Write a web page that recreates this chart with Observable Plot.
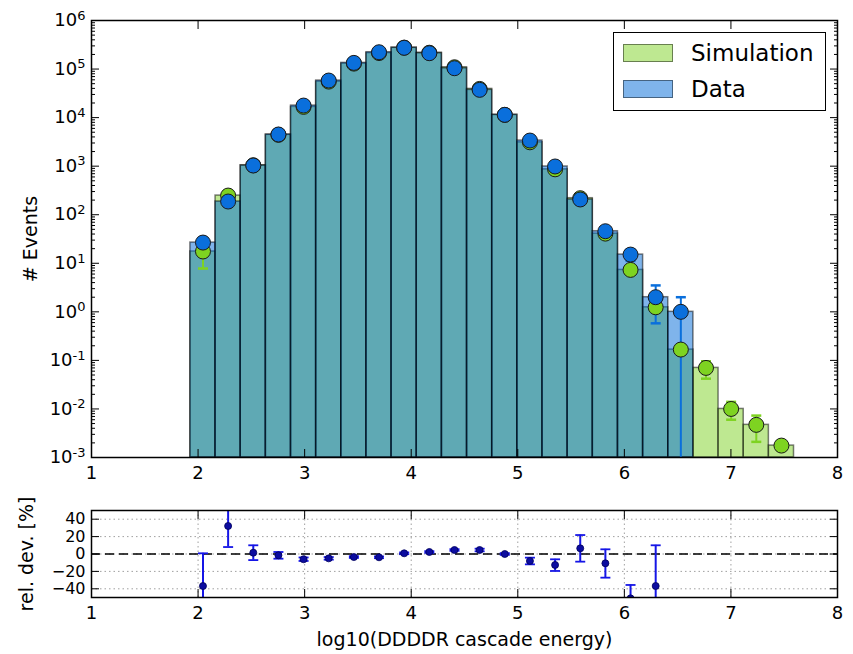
<!DOCTYPE html>
<html><head><meta charset="utf-8">
<script src="https://cdn.jsdelivr.net/npm/d3@7"></script>
<script src="https://cdn.jsdelivr.net/npm/@observablehq/plot@0.6"></script>
<style>
body{margin:0;background:#fff;font-family:"DejaVu Sans",sans-serif;}
#fig{position:relative;width:853px;height:654px;overflow:hidden;background:#fff;}
#top,#bot{position:absolute;left:0;}
#top{top:0}
#bot{top:490px}
.legend{position:absolute;left:613px;top:32px;width:211px;height:77px;border:1.5px solid #000;background:#fff;font-size:23px;}
.legend .row{position:absolute;left:9px;height:20px;display:flex;align-items:center;}
.legend .sw{width:48px;height:16px;border:1.5px solid rgba(0,0,0,0.45);margin-right:18px;}
</style></head><body>
<div id="fig"><div id="top"></div><div id="bot"></div>
<div class="legend">
  <div class="row" style="top:10px"><div class="sw" style="background:rgba(125,209,35,0.5)"></div><span>Simulation</span></div>
  <div class="row" style="top:46px"><div class="sw" style="background:rgba(0,105,215,0.5)"></div><span>Data</span></div>
</div>
</div>
<script>
// ---- data ----
const binEdges = [1.928, 2.164, 2.400, 2.636, 2.872, 3.108, 3.344, 3.580, 3.816, 4.052, 4.288, 4.524, 4.760,
                  4.996, 5.232, 5.468, 5.704, 5.940, 6.176, 6.412, 6.648, 6.884, 7.120, 7.356, 7.592];
const simCounts = [17.5, 248, 1045, 4420, 16640, 55100, 129300, 213600, 276200, 216900, 108800, 39000,
                   11400, 3100, 861, 219, 40.8, 7.3, 1.24, 0.167, 0.070, 0.010, 0.0047, 0.00176];
const dataCounts = [26.7, 187, 1030, 4490, 17700, 58000, 134000, 222000, 274000, 212000, 104000, 37300,
                    11400, 3370, 985, 206, 45.7, 15.1, 2.0, 1.0, null, null, null, null];
const dataErrLow  = [null,null,null,null,null,null,null,null,null,null,null,null,null,null,null,null,null, 11.2, 0.58, 1e-4, null,null,null,null];
const dataErrHigh = [null,null,null,null,null,null,null,null,null,null,null,null,null,null,null,null,null, 19.0, 3.5, 2.0, null,null,null,null];
const simErrLow   = [7.8, null,null,null,null,null,null,null,null,null,null,null,null,null,null,null,null,null,null,null, 0.042, 0.006, 0.0021, null];
const simErrHigh  = [27.2,null,null,null,null,null,null,null,null,null,null,null,null,null,null,null,null,null,null,null, 0.096, 0.014, 0.0073, null];
const relDev      = [-36.8, 32.2, 1.5, -1.5, -6, -5, -3.5, -3.8, 0.8, 2.3, 4.6, 4.6, 0, -8, -12.6, 6.5, -10.7, -51, -36.8];
const relDevLow   = [-74, 8, -7, -5.4, -8, -6.5, -4.5, -4.8, -0.2, 1.3, 3.6, 3.1, -1, -11.9, -19.5, -8.8, -27.2, -66, -84];
const relDevHigh  = [0.8, 56, 10, 2.3, -4, -3.5, -2.5, -2.8, 1.8, 3.3, 5.6, 6.1, 1, -4.2, -6.1, 21.8, 5.4, -35.6, 10];
const xTicks = [1, 2, 3, 4, 5, 6, 7, 8];
const yTicks = [1e-3, 1e-2, 1e-1, 1, 10, 100, 1e3, 1e4, 1e5, 1e6];
const relTicks = [-40, -20, 0, 20, 40];

// ---- styles ----
const simFill = "rgb(125,209,35)";
const dataFill = "rgb(0,105,215)";
const simMarker = "#7ed321";
const dataMarker = "#0a6fdc";
const ratioColor = "#1515e6";

const minorTicks = [];
for (let e = -3; e < 6; e++) for (let m = 2; m <= 9; m++) minorTicks.push(m * Math.pow(10, e));

const bins = simCounts.map((s, i) => ({
  lo: binEdges[i], hi: binEdges[i + 1], x: (binEdges[i] + binEdges[i + 1]) / 2,
  sim: s, data: dataCounts[i],
  dLo: dataErrLow[i], dHi: dataErrHigh[i], sLo: simErrLow[i], sHi: simErrHigh[i]
}));
const dataBins = bins.filter(d => d.data != null);
const dataErr = bins.filter(d => d.dLo != null);
const simErr = bins.filter(d => d.sLo != null);
const ratio = relDev.map((v, i) => ({x: bins[i].x, v, lo: relDevLow[i], hi: relDevHigh[i]}));

const cap = {draw(context, size) { const w = Math.sqrt(size / Math.PI); context.moveTo(-w, 0); context.lineTo(w, 0); }};
const font = {fontFamily: "DejaVu Sans", fontSize: "18px", color: "black", background: "transparent", overflow: "visible"};
const intFmt = d => String(d);

const topPlot = Plot.plot({
  width: 853, height: 490, marginTop: 20, marginBottom: 33, marginLeft: 91, marginRight: 16,
  style: font,
  x: {domain: [1, 8]},
  y: {type: "log", domain: [1e-3, 1e6]},
  marks: [
    Plot.rectY(bins, {x1: "lo", x2: "hi", y1: 1e-3, y2: "sim", fill: simFill, fillOpacity: 0.5, stroke: "#000", strokeOpacity: 0.5, strokeWidth: 1.5}),
    Plot.rectY(dataBins, {x1: "lo", x2: "hi", y1: 1e-3, y2: "data", fill: dataFill, fillOpacity: 0.5, stroke: "#000", strokeOpacity: 0.5, strokeWidth: 1.5}),
    Plot.ruleX(simErr, {x: "x", y1: "sLo", y2: "sHi", stroke: simMarker, strokeWidth: 2, clip: true}),
    Plot.dot(simErr, {x: "x", y: "sLo", symbol: cap, r: 5, stroke: simMarker, fill: "none", strokeWidth: 2.5}),
    Plot.dot(simErr, {x: "x", y: "sHi", symbol: cap, r: 5, stroke: simMarker, fill: "none", strokeWidth: 2.5}),
    Plot.ruleX(dataErr, {x: "x", y1: "dLo", y2: "dHi", stroke: dataMarker, strokeWidth: 2, clip: true}),
    Plot.dot(dataErr, {x: "x", y: "dLo", symbol: cap, r: 5, stroke: dataMarker, fill: "none", strokeWidth: 2.5, clip: true}),
    Plot.dot(dataErr, {x: "x", y: "dHi", symbol: cap, r: 5, stroke: dataMarker, fill: "none", strokeWidth: 2.5}),
    Plot.dot(bins, {x: "x", y: "sim", r: 7.5, fill: simMarker, stroke: "#1a1a1a", strokeWidth: 1}),
    Plot.dot(dataBins, {x: "x", y: "data", r: 7.5, fill: dataMarker, stroke: "#1a1a1a", strokeWidth: 1}),
    Plot.axisX({anchor: "bottom", ticks: xTicks, tickSize: -8, tickPadding: 17, tickFormat: intFmt, label: null}),
    Plot.axisX({anchor: "top", ticks: xTicks, tickSize: -8, tickFormat: () => "", label: null}),
    Plot.axisY({anchor: "left", ticks: yTicks, tickSize: -8, tickPadding: 14,
      tickFormat: d => "10^" + Math.round(Math.log10(d)),
      label: "# Events", labelAnchor: "center", labelOffset: 68, labelArrow: false}),
    Plot.axisY({anchor: "left", ticks: minorTicks, tickSize: -4, tickFormat: () => "", label: null}),
    Plot.axisY({anchor: "right", ticks: yTicks, tickSize: -8, tickFormat: () => "", label: null}),
    Plot.axisY({anchor: "right", ticks: minorTicks, tickSize: -4, tickFormat: () => "", label: null}),
    Plot.frame({stroke: "black", strokeWidth: 1.5})
  ]
});
document.getElementById("top").append(topPlot);

// superscripts for the log tick labels
topPlot.querySelectorAll("text").forEach(t => {
  const m = /^10\^(-?\d+)$/.exec(t.textContent);
  if (!m) return;
  t.textContent = "";
  const base = document.createElementNS("http://www.w3.org/2000/svg", "tspan");
  base.textContent = "10";
  const sup = document.createElementNS("http://www.w3.org/2000/svg", "tspan");
  sup.textContent = m[1];
  sup.setAttribute("dy", "-0.5em");
  sup.setAttribute("font-size", "13px");
  t.append(base, sup);
});

const botPlot = Plot.plot({
  width: 853, height: 164, marginTop: 20, marginBottom: 57, marginLeft: 91, marginRight: 16,
  style: font,
  x: {domain: [1, 8]},
  y: {domain: [-50, 50]},
  marks: [
    Plot.gridX(xTicks, {stroke: "#888", strokeOpacity: 0.8, strokeDasharray: "1.5,3"}),
    Plot.gridY(relTicks, {stroke: "#888", strokeOpacity: 0.8, strokeDasharray: "1.5,3"}),
    Plot.ruleY([0], {stroke: "black", strokeWidth: 1.5, strokeDasharray: "9,5"}),
    Plot.ruleX(ratio, {x: "x", y1: "lo", y2: "hi", stroke: ratioColor, strokeWidth: 2, clip: true}),
    Plot.dot(ratio, {x: "x", y: "lo", symbol: cap, r: 5, stroke: ratioColor, fill: "none", strokeWidth: 1.8, clip: true}),
    Plot.dot(ratio, {x: "x", y: "hi", symbol: cap, r: 5, stroke: ratioColor, fill: "none", strokeWidth: 1.8, clip: true}),
    Plot.dot(ratio, {x: "x", y: "v", r: 3.5, fill: "#0c0ca0", stroke: "#00005a", strokeWidth: 0.8, clip: true}),
    Plot.axisX({anchor: "bottom", ticks: xTicks, tickSize: -8, tickPadding: 17, tickFormat: intFmt,
      label: "log10(DDDDR cascade energy)", labelAnchor: "center", labelOffset: 48, labelArrow: false}),
    Plot.axisX({anchor: "top", ticks: xTicks, tickSize: -8, tickFormat: () => "", label: null}),
    Plot.axisY({anchor: "left", ticks: relTicks, tickSize: -8, tickPadding: 14, fontSize: 16,
      label: null}),
    Plot.axisY({anchor: "left", ticks: [], tickSize: 0,
      label: "rel. dev. [%]", labelAnchor: "center", labelOffset: 72, labelArrow: false}),
    Plot.axisY({anchor: "right", ticks: relTicks, tickSize: -8, tickFormat: () => "", label: null}),
    Plot.frame({stroke: "black", strokeWidth: 1.5})
  ]
});
document.getElementById("bot").append(botPlot);

// axis titles at the reference's size
const labelTexts = ["# Events", "rel. dev. [%]", "log10(DDDDR cascade energy)"];
document.querySelectorAll("#fig svg text").forEach(t => {
  if (labelTexts.includes(t.textContent)) t.setAttribute("font-size", "19px");
});
</script>
</body></html>
